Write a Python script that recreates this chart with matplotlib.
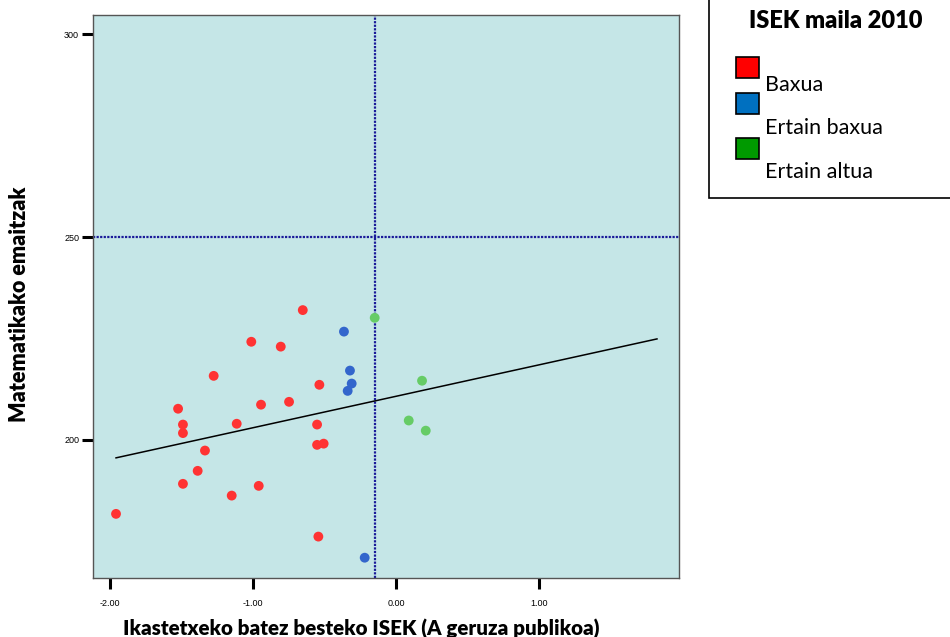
#!/usr/bin/env python3

import matplotlib
matplotlib.use('Agg')
import matplotlib.pyplot as plt
from matplotlib.patches import Rectangle
import numpy as np

# ISEK (x) and math results (y)
baxua_x = [-0.652, -1.012, -0.806, -1.275, -0.536, -1.524, -0.944, -0.748, -1.490, -1.490, -1.114,
           -0.552, -0.552, -0.506, -1.336, -1.387, -1.490, -0.960, -1.149, -1.958, -0.543]
baxua_y = [232.0, 224.2, 223.0, 215.8, 213.6, 207.7, 208.7, 209.4, 203.8, 201.7, 204.0,
           203.8, 198.8, 199.1, 197.4, 192.4, 189.2, 188.7, 186.3, 181.8, 176.2]
ertain_baxua_x = [-0.364, -0.322, -0.310, -0.338, -0.219]
ertain_baxua_y = [226.7, 217.1, 213.9, 212.1, 171.0]
ertain_altua_x = [-0.149, 0.182, 0.089, 0.208]
ertain_altua_y = [230.1, 214.6, 204.8, 202.3]

# fit line (start / end) and reference lines
fit_x = [-1.958, 1.825]
fit_y = [195.6, 224.9]
ref_x = -0.147
ref_y = 250

x_ticks = [-2.0, -1.0, 0.0, 1.0]
x_tick_labels = ['-2.00', '-1.00', '0.00', '1.00']
y_ticks = [200, 250, 300]
y_tick_labels = ['200', '250', '300']

legend_title = 'ISEK maila 2010'
legend_labels = ['Baxua', 'Ertain baxua', 'Ertain altua']
legend_colors = ['#ff0000', '#0070c0', '#009a00']
point_colors = ['#ff3333', '#3366cc', '#66cc66']

fig = plt.figure(figsize=(9.5, 6.37), dpi=100)
ax = fig.add_axes([93 / 950, 59 / 637, 586 / 950, 563 / 637])
ax.set_facecolor('#c5e6e7')

groups = [(baxua_x, baxua_y), (ertain_baxua_x, ertain_baxua_y), (ertain_altua_x, ertain_altua_y)]
for (gx, gy), c in zip(groups, point_colors):
    ax.scatter(gx, gy, s=50, color=c, edgecolors='none', zorder=3)

ax.axvline(ref_x, color='#1a1a99', ls=(0, (1, 0.6)), lw=1.6, zorder=2)
ax.axhline(ref_y, color='#1a1a99', ls=(0, (1, 0.6)), lw=1.6, zorder=2)
ax.plot(fit_x, fit_y, color='black', lw=1.1, zorder=4)

ax.set_xlim(-2.119, 1.979)
ax.set_ylim(166.0, 304.7)
ax.set_xticks(x_ticks)
ax.set_xticklabels(x_tick_labels, fontsize=6.5, family='Liberation Sans')
ax.set_yticks(y_ticks)
ax.set_yticklabels(y_tick_labels, fontsize=6.5, family='Liberation Sans')
ax.tick_params(length=8, width=2.2, color='black', pad=2)
ax.tick_params(axis='x', pad=7)
for s in ax.spines.values():
    s.set_color('#555555')
    s.set_linewidth(1)

ax.set_xlabel('Ikastetxeko batez besteko ISEK (A geruza publikoa)', fontsize=14.8,
              fontweight='heavy', family='Lato')
ax.xaxis.set_label_coords(0.457, -0.072)
ax.set_ylabel('Matematikako emaitzak', fontsize=15.5, fontweight='heavy', family='Lato')
ax.yaxis.set_label_coords(-0.108, 0.487)

# legend box, drawn by hand (labels sit below the swatches)
fig.add_artist(Rectangle((709 / 950, 1 - 198 / 637), 0.4, 0.4, transform=fig.transFigure,
                         facecolor='white', edgecolor='black', lw=1.2))
fig.text(836 / 950, 1 - 21 / 637, legend_title, ha='center', va='center', fontsize=17,
         fontweight='heavy', family='Lato')
sw_tops = [57, 93, 138]
lab_y = [85, 128, 172]
for c, lab, t, ly in zip(legend_colors, legend_labels, sw_tops, lab_y):
    fig.add_artist(Rectangle((736 / 950, 1 - (t + 21) / 637), 23 / 950, 21 / 637,
                             transform=fig.transFigure, facecolor=c, edgecolor='black', lw=1.2))
    fig.text(765 / 950, 1 - ly / 637, lab, ha='left', va='center', fontsize=15.5, family='Lato')

fig.savefig('out.png', dpi=100)
